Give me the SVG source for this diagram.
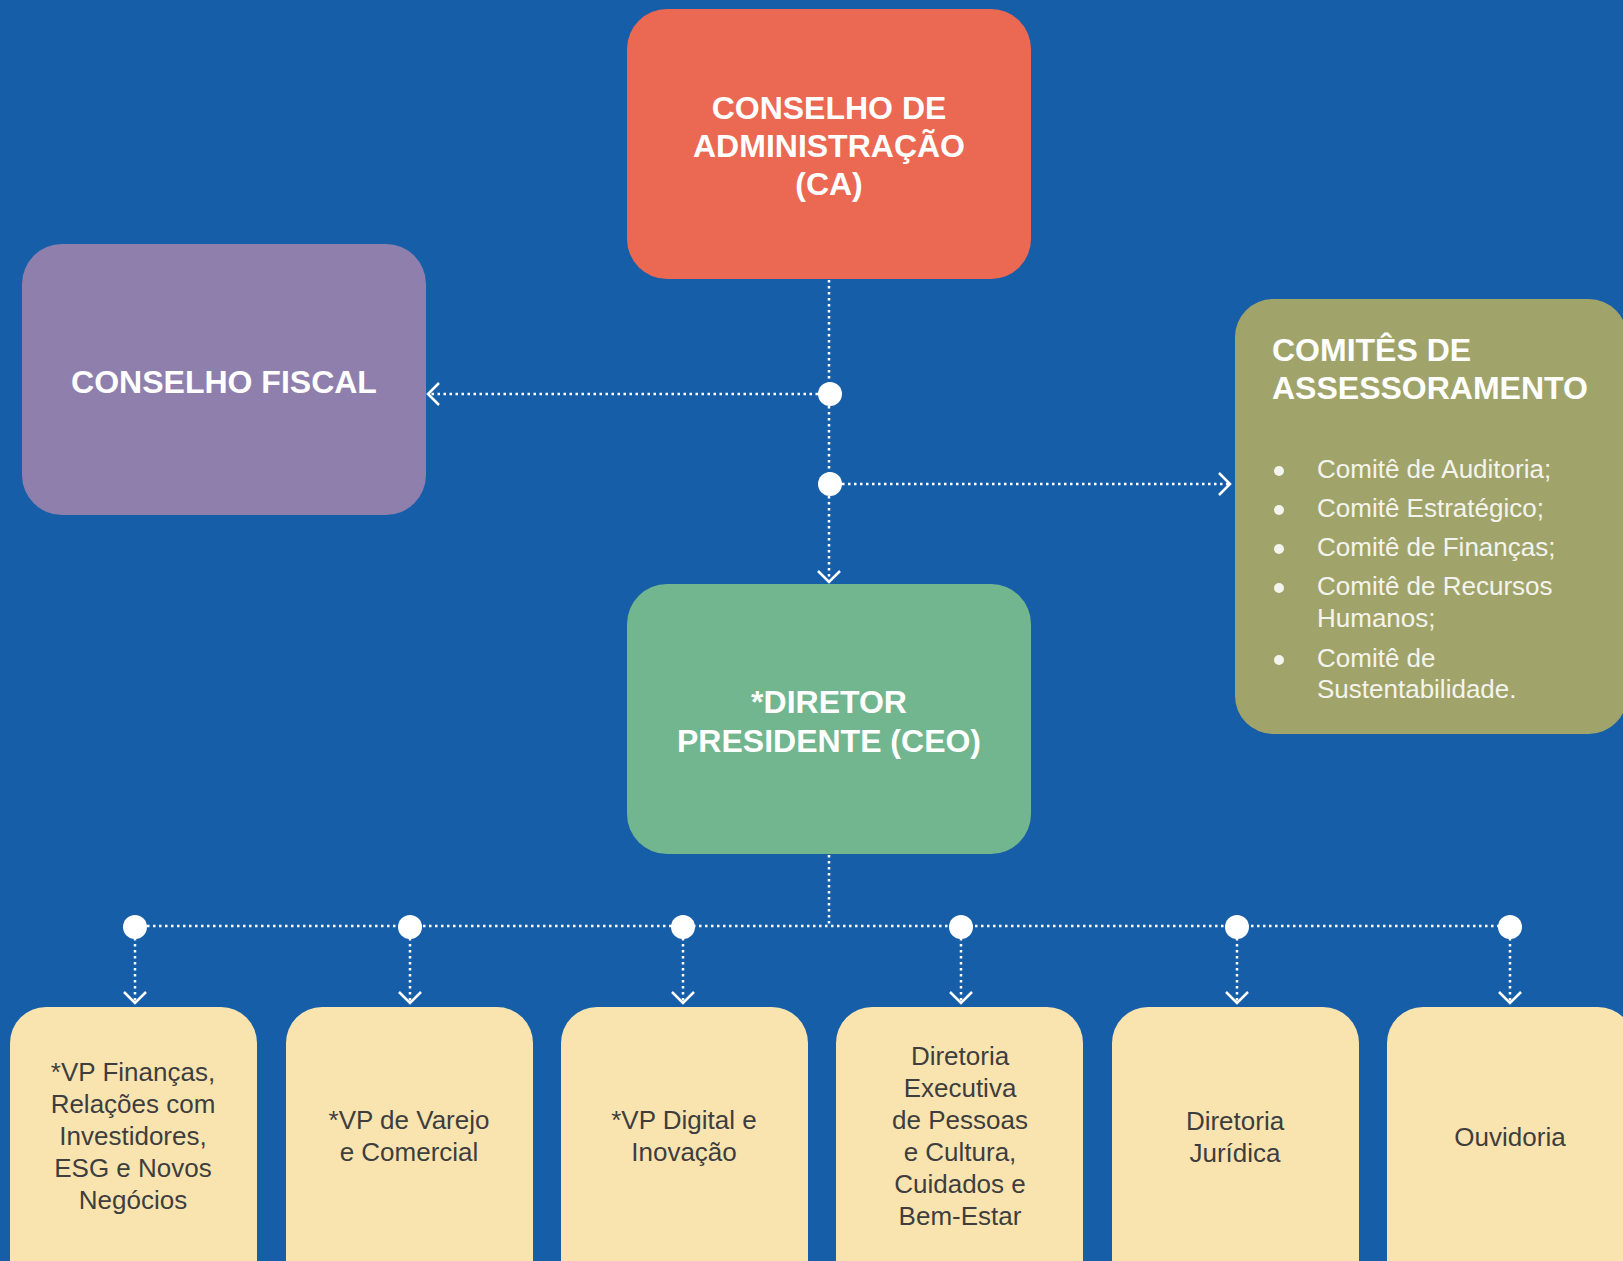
<svg xmlns="http://www.w3.org/2000/svg" width="1623" height="1261" viewBox="0 0 1623 1261">
<defs>
<style>
.hdr{font-family:"Liberation Sans",Arial,sans-serif;font-weight:bold;font-size:32px;fill:#ffffff;text-anchor:middle}
.lst{font-family:"Liberation Sans",Arial,sans-serif;font-weight:300;font-size:26px;fill:#f4f4ee}
.bt{font-family:"Liberation Sans",Arial,sans-serif;font-weight:300;font-size:26px;fill:#3e3e3e;text-anchor:middle}
.dot{stroke:#ffffff;stroke-width:2.5;stroke-dasharray:2.5 3.5;fill:none}
.ybox{fill:#F9E4B0}
</style>
<marker id="chev" markerUnits="userSpaceOnUse" markerWidth="30" markerHeight="30" viewBox="-15 -15 30 30" refX="0" refY="0" orient="auto" overflow="visible">
<path d="M-11,-11 L0,0 L-11,11" fill="none" stroke="#ffffff" stroke-width="2.5"/>
</marker>
</defs>
<rect x="0" y="0" width="1623" height="1261" fill="#175EA8"/>

<g id="connectors">
<line class="dot" x1="829" y1="280" x2="829" y2="582" marker-end="url(#chev)"/>
<line class="dot" x1="818" y1="394" x2="428" y2="394" marker-end="url(#chev)"/>
<line class="dot" x1="842" y1="484" x2="1230" y2="484" marker-end="url(#chev)"/>
<line class="dot" x1="829" y1="855" x2="829" y2="926"/>
<line class="dot" x1="135" y1="926" x2="1510" y2="926"/>
<line class="dot" x1="135" y1="926" x2="135" y2="1003" marker-end="url(#chev)"/>
<line class="dot" x1="410" y1="926" x2="410" y2="1003" marker-end="url(#chev)"/>
<line class="dot" x1="683" y1="926" x2="683" y2="1003" marker-end="url(#chev)"/>
<line class="dot" x1="961" y1="926" x2="961" y2="1003" marker-end="url(#chev)"/>
<line class="dot" x1="1237" y1="926" x2="1237" y2="1003" marker-end="url(#chev)"/>
<line class="dot" x1="1510" y1="926" x2="1510" y2="1003" marker-end="url(#chev)"/>
<g fill="#ffffff">
<circle cx="830" cy="394" r="12"/>
<circle cx="830" cy="484" r="12"/>
<circle cx="135" cy="927" r="12"/>
<circle cx="410" cy="927" r="12"/>
<circle cx="683" cy="927" r="12"/>
<circle cx="961" cy="927" r="12"/>
<circle cx="1237" cy="927" r="12"/>
<circle cx="1510" cy="927" r="12"/>
</g>
</g>

<g id="conselho-administracao">
<rect x="627" y="9" width="404" height="270" rx="40" fill="#EB6852"/>
<text class="hdr" x="829" y="119">CONSELHO DE</text>
<text class="hdr" x="829" y="157">ADMINISTRAÇÃO</text>
<text class="hdr" x="829" y="195">(CA)</text>
</g>

<g id="conselho-fiscal">
<rect x="22" y="244" width="404" height="271" rx="40" fill="#8F7FAD"/>
<text class="hdr" x="224" y="393">CONSELHO FISCAL</text>
</g>

<g id="comites">
<rect x="1235" y="299" width="392" height="435" rx="38" fill="#A1A46A"/>
<text class="hdr" x="1272" y="361" style="text-anchor:start">COMITÊS DE</text>
<text class="hdr" x="1272" y="399" style="text-anchor:start">ASSESSORAMENTO</text>
<g fill="#f4f4ee">
<circle cx="1279" cy="471" r="5"/>
<circle cx="1279" cy="510" r="5"/>
<circle cx="1279" cy="549" r="5"/>
<circle cx="1279" cy="588" r="5"/>
<circle cx="1279" cy="660" r="5"/>
</g>
<text class="lst" x="1317" y="478">Comitê de Auditoria;</text>
<text class="lst" x="1317" y="517">Comitê Estratégico;</text>
<text class="lst" x="1317" y="556">Comitê de Finanças;</text>
<text class="lst" x="1317" y="595">Comitê de Recursos</text>
<text class="lst" x="1317" y="627">Humanos;</text>
<text class="lst" x="1317" y="667">Comitê de</text>
<text class="lst" x="1317" y="698">Sustentabilidade.</text>
</g>

<g id="ceo">
<rect x="627" y="584" width="404" height="270" rx="40" fill="#72B68F"/>
<text class="hdr" x="829" y="713">*DIRETOR</text>
<text class="hdr" x="829" y="752">PRESIDENTE (CEO)</text>
</g>

<g id="vp-financas">
<rect class="ybox" x="10" y="1007" width="247" height="290" rx="36"/>
<text class="bt" x="133" y="1081">*VP Finanças,</text>
<text class="bt" x="133" y="1113">Relações com</text>
<text class="bt" x="133" y="1145">Investidores,</text>
<text class="bt" x="133" y="1177">ESG e Novos</text>
<text class="bt" x="133" y="1209">Negócios</text>
</g>

<g id="vp-varejo">
<rect class="ybox" x="286" y="1007" width="247" height="290" rx="36"/>
<text class="bt" x="409" y="1129">*VP de Varejo</text>
<text class="bt" x="409" y="1161">e Comercial</text>
</g>

<g id="vp-digital">
<rect class="ybox" x="561" y="1007" width="247" height="290" rx="36"/>
<text class="bt" x="684" y="1129">*VP Digital e</text>
<text class="bt" x="684" y="1161">Inovação</text>
</g>

<g id="diretoria-pessoas">
<rect class="ybox" x="836" y="1007" width="247" height="290" rx="36"/>
<text class="bt" x="960" y="1065">Diretoria</text>
<text class="bt" x="960" y="1097">Executiva</text>
<text class="bt" x="960" y="1129">de Pessoas</text>
<text class="bt" x="960" y="1161">e Cultura,</text>
<text class="bt" x="960" y="1193">Cuidados e</text>
<text class="bt" x="960" y="1225">Bem-Estar</text>
</g>

<g id="diretoria-juridica">
<rect class="ybox" x="1112" y="1007" width="247" height="290" rx="36"/>
<text class="bt" x="1235" y="1130">Diretoria</text>
<text class="bt" x="1235" y="1162">Jurídica</text>
</g>

<g id="ouvidoria">
<rect class="ybox" x="1387" y="1007" width="247" height="290" rx="36"/>
<text class="bt" x="1510" y="1146">Ouvidoria</text>
</g>
</svg>
